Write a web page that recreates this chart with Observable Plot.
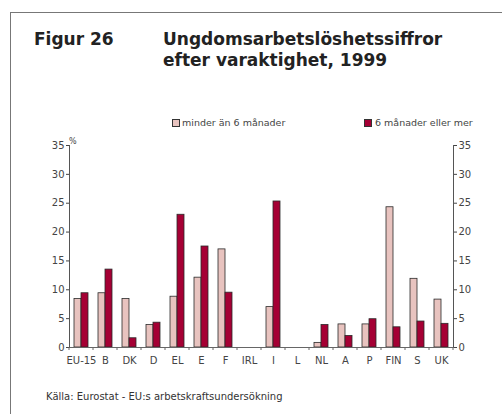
<!DOCTYPE html>
<html>
<head>
<meta charset="utf-8">
<script src="https://cdn.jsdelivr.net/npm/d3@7"></script>
<script src="https://cdn.jsdelivr.net/npm/@observablehq/plot@0.6"></script>
<style>
  html, body { margin: 0; padding: 0; background: #fff; }
  #wrap { position: relative; width: 502px; height: 414px; overflow: hidden; font-family: "DejaVu Sans", Verdana, sans-serif; }
  #frame { position: absolute; left: 10px; top: 12px; width: 600px; height: 600px; border-left: 1.5px solid #777; border-top: 1.5px solid #777; }
  .t { position: absolute; white-space: nowrap; }
  .title { font-size: 17px; font-weight: bold; color: #222; line-height: 17px; }
  .leg { font-size: 9.5px; color: #444; line-height: 10px; }
  .sw { position: absolute; width: 6px; height: 6px; border: 1px solid #333; }
  #chart { position: absolute; left: 0; top: 0; }
</style>
</head>
<body>
<div id="wrap">
  <div id="frame"></div>
  <div class="t title" style="left:34px; top:31px;">Figur 26</div>
  <div class="t title" style="left:163px; top:31px;">Ungdomsarbetslöshetssiffror</div>
  <div class="t title" style="left:163px; top:52px;">efter varaktighet, 1999</div>
  <div class="sw" style="left:172px; top:119px; background:#e8c3bf;"></div>
  <div class="t leg" style="left:182px; top:118px;">minder än 6 månader</div>
  <div class="sw" style="left:364px; top:119px; background:#a50034;"></div>
  <div class="t leg" style="left:375px; top:118px;">6 månader eller mer</div>
  <div class="t leg" style="left:69px; top:137px; font-size:8px;">%</div>
  <div class="t" style="left:46px; top:392px; font-size:10px; color:#333; line-height:10px;">Källa: Eurostat - EU:s arbetskraftsundersökning</div>
  <div id="chart"></div>
</div>
<script>
const countries = ["EU-15","B","DK","D","EL","E","F","IRL","I","L","NL","A","P","FIN","S","UK"];
const series = ["minder än 6 månader", "6 månader eller mer"];
const shortTerm = [8.4, 9.4, 8.4, 3.9, 8.8, 12.1, 17.0, null, 7.0, null, 0.8, 4.0, 4.0, 24.3, 11.9, 8.3];
const longTerm  = [9.4, 13.5, 1.6, 4.3, 23.0, 17.5, 9.5, null, 25.3, null, 3.9, 2.0, 4.9, 3.5, 4.5, 4.1];
const yTicks = [0, 5, 10, 15, 20, 25, 30, 35];
const colors = ["#e8c3bf", "#a50034"];

// keep every country (missing values stay null) so no facet is empty
const rows = [];
countries.forEach((c, i) => {
  rows.push({country: c, series: series[0], value: shortTerm[i]});
  rows.push({country: c, series: series[1], value: longTerm[i]});
});

const W = 502, H = 414, mL = 63, mR = 43, mT = 145, mB = 67;

const chart = Plot.plot({
  width: W, height: H,
  marginLeft: mL, marginRight: mR, marginTop: mT, marginBottom: mB,
  style: {fontFamily: "DejaVu Sans, Verdana, sans-serif", fontSize: "10px", color: "#444", background: "transparent"},
  fx: {domain: countries, padding: 0, label: null, axis: "bottom", tickSize: 0, tickPadding: 9},
  x: {domain: series, paddingInner: 0, paddingOuter: 0.69, axis: null},
  y: {domain: [0, 35], ticks: yTicks, tickSize: 3, tickPadding: 2, label: null, axis: "both"},
  color: {domain: series, range: colors},
  marks: [
    Plot.barY(rows, {fx: "country", x: "series", y: "value", fill: "series", stroke: "#2a2a2a", strokeWidth: 0.8}),
    Plot.ruleY([0], {stroke: "#666", strokeWidth: 1}),
    Plot.frame({anchor: "left", facetAnchor: "left", stroke: "#555"}),
    Plot.frame({anchor: "right", facetAnchor: "right", stroke: "#555"})
  ]
});

// boundary tick marks on the category axis, placed with Plot's own fx and y scales
const fx = chart.scale("fx");
const ys = chart.scale("y");
const fxs = Plot.scale({fx: fx});
const y0 = Plot.scale({y: ys}).apply(0);
const svg = d3.select(chart.tagName.toLowerCase() === "svg" ? chart : chart.querySelector("svg"));
const g = svg.append("g").attr("stroke", "#666");
countries.forEach((c, i) => {
  const x0 = fxs.apply(c);
  g.append("line").attr("x1", x0).attr("x2", x0).attr("y1", y0).attr("y2", y0 + 3);
  if (i === countries.length - 1) {
    const x1 = x0 + fx.bandwidth;
    g.append("line").attr("x1", x1).attr("x2", x1).attr("y1", y0).attr("y2", y0 + 3);
  }
});

document.getElementById("chart").appendChild(chart);
</script>
</body>
</html>
